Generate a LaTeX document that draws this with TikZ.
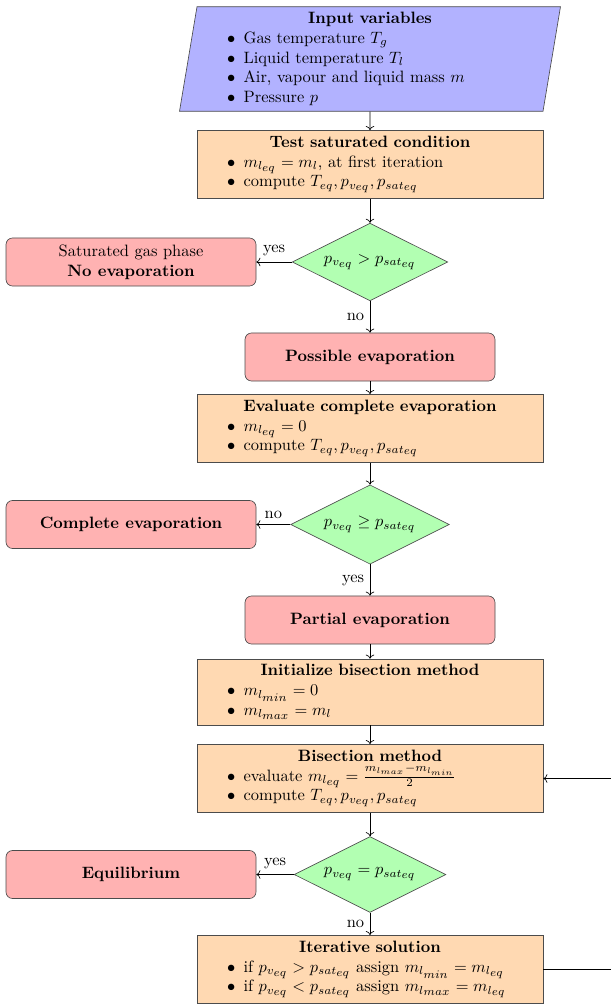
\documentclass[tikz,border=0pt]{standalone}
\usepackage{amsmath,amssymb}
\usepackage{tikz}
\usetikzlibrary{arrows.meta,shapes.geometric}

\newcommand{\itm}[1]{\par\noindent\hspace*{15pt}\makebox[10pt][l]{$\bullet$}#1}
\newcommand{\sx}[1]{{\scriptstyle #1}}

\begin{document}
\begin{tikzpicture}[x=0.608pt,y=-0.608pt,
  io/.style={trapezium,trapezium left angle=80.5,trapezium right angle=99.5,draw=black!70,fill=blue!30,text width=203.7pt,align=left},
  task/.style={rectangle,draw=black!70,fill=orange!30,text width=203.7pt,align=left},
  dec/.style={diamond,aspect=2,draw=black!70,fill=green!30},
  state/.style={rectangle,rounded corners,draw=black!70,fill=red!30,minimum width=152pt,minimum height=29.2pt,align=center}]
\useasboundingbox (0,0) rectangle (610,1004);
\node[io] (input) at (370,59) {\centerline{\textbf{Input variables}}
  \itm{Gas temperature $T_g$}
  \itm{Liquid temperature $T_l$}
  \itm{Air, vapour and liquid mass $m$}
  \itm{Pressure $p$}};
\node[task] (test) at (370,164.5) {\centerline{\textbf{Test saturated condition}}
  \itm{$m_{l_{\sx{eq}}}=m_l$, at first iteration}
  \itm{compute $T_{eq},p_{v_{\sx{eq}}},p_{sat_{\sx{eq}}}$}};
\node[dec] (d1) at (370,262) {$p_{v_{\sx{eq}}}>p_{sat_{\sx{eq}}}$};
\node[state] (sat) at (131,262) {Saturated gas phase\\\textbf{No evaporation}};
\node[state] (poss) at (370,357) {\textbf{Possible evaporation}};
\node[task] (eval) at (370,428.5) {\centerline{\textbf{Evaluate complete evaporation}}
  \itm{$m_{l_{\sx{eq}}}=0$}
  \itm{compute $T_{eq},p_{v_{\sx{eq}}},p_{sat_{\sx{eq}}}$}};
\node[dec] (d2) at (370,524.5) {$p_{v_{\sx{eq}}}\geq p_{sat_{\sx{eq}}}$};
\node[state] (compl) at (131,524.5) {\textbf{Complete evaporation}};
\node[state] (part) at (370,620) {\textbf{Partial evaporation}};
\node[task] (init) at (370,692) {\centerline{\textbf{Initialize bisection method}}
  \itm{$m_{l_{\sx{min}}}=0$}
  \itm{$m_{l_{\sx{max}}}=m_l$}};
\node[task] (bis) at (370,778.5) {\centerline{\textbf{Bisection method}}
  \itm{evaluate $m_{l_{\sx{eq}}}=\frac{m_{l_{max}}-m_{l_{min}}}{2}$}
  \itm{compute $T_{eq},p_{v_{\sx{eq}}},p_{sat_{\sx{eq}}}$}};
\node[dec] (d3) at (370,874.5) {$p_{v_{\sx{eq}}}=p_{sat_{\sx{eq}}}$};
\node[state] (equil) at (131,874.5) {\textbf{Equilibrium}};
\node[task] (iter) at (370,969.5) {\centerline{\textbf{Iterative solution}}
  \itm{if $p_{v_{\sx{eq}}}>p_{sat_{\sx{eq}}}$ assign $m_{l_{\sx{min}}}=m_{l_{\sx{eq}}}$}
  \itm{if $p_{v_{\sx{eq}}}<p_{sat_{\sx{eq}}}$ assign $m_{l_{\sx{max}}}=m_{l_{\sx{eq}}}$}};
\coordinate (back) at (625,778.5);
\draw[->] (input) -- (test);
\draw[->] (test) -- (d1);
\draw[->] (d1) -- node[above] {yes} (sat);
\draw[->] (d1) -- node[left] {no} (poss);
\draw[->] (poss) -- (eval);
\draw[->] (eval) -- (d2);
\draw[->] (d2) -- node[above] {no} (compl);
\draw[->] (d2) -- node[left] {yes} (part);
\draw[->] (part) -- (init);
\draw[->] (init) -- (bis);
\draw[->] (bis) -- (d3);
\draw[->] (d3) -- node[above] {yes} (equil);
\draw[->] (d3) -- node[left] {no} (iter);
\draw[->] (iter.east) -| (back) |- (bis.east);
\end{tikzpicture}
\end{document}
